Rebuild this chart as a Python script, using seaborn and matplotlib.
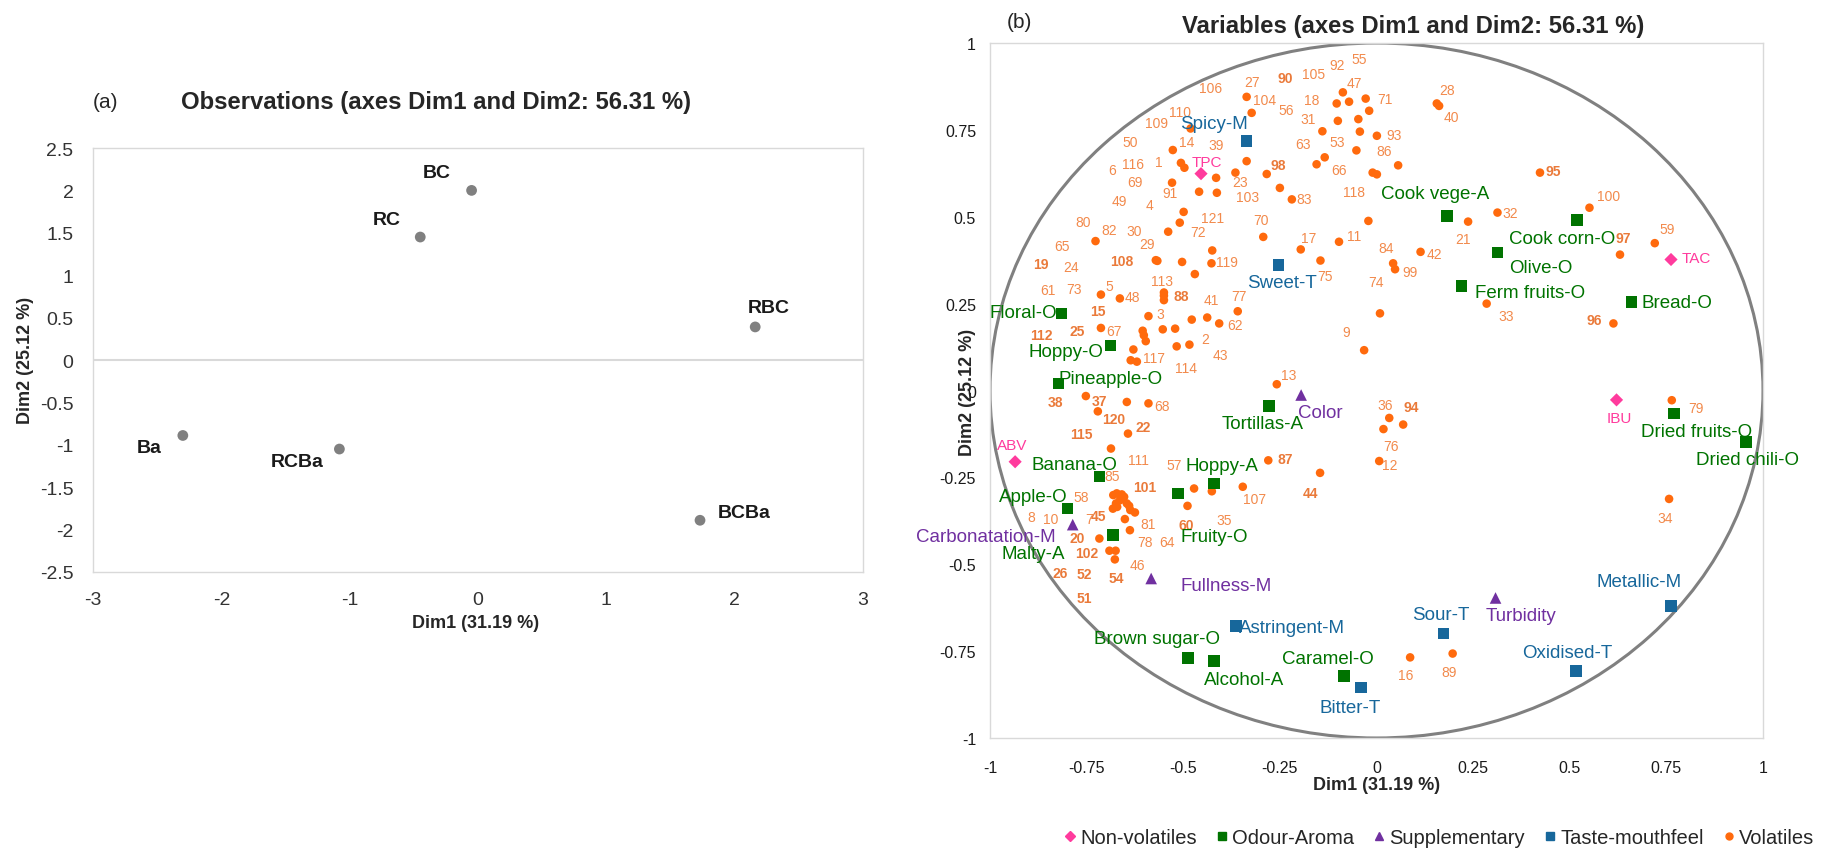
import numpy as np
import pandas as pd
import seaborn as sns
import matplotlib.pyplot as plt
from matplotlib.patches import Circle
from matplotlib.lines import Line2D

sns.set_theme(style="white")
plt.rcParams['font.family'] = ['Liberation Sans', 'DejaVu Sans']

# ---- (a) observations
obs_names = ['BC', 'RC', 'RBC', 'Ba', 'RCBa', 'BCBa']
obs_dim1 = [-0.05, -0.45, 2.16, -2.30, -1.08, 1.73]
obs_dim2 = [2.00, 1.45, 0.39, -0.89, -1.05, -1.89]

# ---- (b) variables
nonvol_names = ['TPC', 'TAC', 'IBU', 'ABV']
nonvol_dim1 = [-0.454, 0.762, 0.621, -0.935]
nonvol_dim2 = [0.624, 0.377, -0.027, -0.205]

odour_names = ['Cook vege-A', 'Cook corn-O', 'Olive-O', 'Ferm fruits-O', 'Bread-O',
               'Floral-O', 'Hoppy-O', 'Pineapple-O', 'Tortillas-A', 'Hoppy-A',
               'Fruity-O', 'Banana-O', 'Apple-O', 'Malty-A', 'Brown sugar-O',
               'Alcohol-A', 'Caramel-O', 'Dried fruits-O', 'Dried chili-O']
odour_dim1 = [0.182, 0.518, 0.313, 0.220, 0.660, -0.815, -0.688, -0.823, -0.278, -0.421,
              -0.513, -0.717, -0.799, -0.681, -0.487, -0.421, -0.084, 0.770, 0.956]
odour_dim2 = [0.503, 0.490, 0.397, 0.301, 0.255, 0.222, 0.129, 0.020, -0.045, -0.268,
              -0.296, -0.248, -0.340, -0.416, -0.769, -0.778, -0.821, -0.066, -0.148]

supp_names = ['Color', 'Carbonatation-M', 'Fullness-M', 'Turbidity']
supp_dim1 = [-0.195, -0.786, -0.583, 0.308]
supp_dim2 = [-0.013, -0.386, -0.541, -0.597]

taste_names = ['Spicy-M', 'Sweet-T', 'Astringent-M', 'Bitter-T', 'Sour-T', 'Metallic-M', 'Oxidised-T']
taste_dim1 = [-0.336, -0.254, -0.364, -0.040, 0.173, 0.762, 0.516]
taste_dim2 = [0.718, 0.361, -0.677, -0.855, -0.699, -0.621, -0.807]

vol_ids = list(range(1, 122))
vol_dim1 = [-0.506, -0.484, -0.590, -0.499, -0.713, -0.021, -0.664, -0.674, -0.032, -0.671,
            -0.097, 0.007, -0.258, -0.527, -0.713, 0.087, -0.196, -0.103, -0.567, -0.717,
            0.237, -0.643, -0.365, -0.553, -0.602, -0.659, -0.336, 0.156, -0.503, -0.470,
            -0.100, 0.313, 0.285, 0.757, -0.426, 0.033, -0.721, -0.752, -0.415, 0.162,
            -0.438, 0.114, -0.521, -0.146, -0.682, -0.675, -0.028, -0.664, -0.425, 0.056,
            -0.651, -0.640, -0.043, -0.677, -0.087, -0.140, -0.472, -0.681, 0.720, -0.489,
            -0.629, -0.407, -0.134, -0.637, -0.478, -0.155, -0.605, -0.590, -0.529, -0.293,
            -0.019, -0.539, -0.636, 0.009, -0.145, 0.018, -0.359, -0.638, 0.764, -0.550,
            -0.625, -0.727, -0.219, 0.043, -0.672, -0.052, -0.280, -0.550, 0.197, -0.250,
            -0.459, -0.071, 0.001, 0.069, 0.423, 0.613, 0.630, -0.284, 0.048, 0.551,
            -0.646, -0.691, -0.413, -0.323, -0.047, -0.336, -0.346, -0.571, 0.001, -0.481,
            -0.653, -0.597, -0.550, -0.517, -0.687, -0.497, -0.620, -0.010, -0.427, -0.646,
            -0.509]
vol_dim2 = [0.655, 0.132, 0.214, 0.514, 0.276, 0.488, -0.316, -0.325, 0.116, -0.335,
            0.428, -0.203, 0.018, 0.692, 0.180, -0.768, 0.406, 0.826, 0.373, -0.426,
            0.486, -0.124, 0.627, 0.176, 0.159, -0.299, 0.845, 0.826, 0.370, 0.335,
            0.776, 0.512, 0.250, -0.312, -0.290, -0.079, -0.060, -0.016, 0.612, 0.819,
            0.210, 0.399, 0.178, -0.237, -0.340, -0.461, 0.840, 0.265, 0.403, 0.648,
            -0.370, -0.332, 0.745, -0.486, 0.858, 0.746, -0.282, -0.301, 0.424, -0.332,
            0.118, 0.193, 0.671, -0.344, 0.204, 0.651, 0.172, -0.037, 0.598, 0.442,
            0.805, 0.457, 0.087, 0.222, 0.374, -0.111, 0.228, -0.402, -0.028, 0.260,
            -0.351, 0.430, 0.550, 0.366, -0.296, 0.691, -0.201, 0.273, -0.757, 0.583,
            0.572, 0.831, 0.733, -0.098, 0.627, 0.193, 0.391, 0.623, 0.349, 0.526,
            -0.325, -0.461, 0.569, 0.799, 0.781, 0.660, -0.277, 0.375, 0.622, 0.754,
            -0.306, 0.142, 0.282, 0.127, -0.167, 0.641, 0.083, 0.627, 0.366, -0.033,
            0.483]
vol_bold = {15, 19, 20, 22, 25, 26, 37, 38, 44, 45, 51, 52, 54, 60, 87, 88, 90, 94, 95,
            96, 97, 98, 101, 102, 108, 112, 115, 120}

# label placement (pixel offsets from the marker, as hand-placed in the original)
obs_nudge = {'BC': (-35, 18), 'RC': (-34, 18), 'RBC': (14, 19), 'Ba': (-34, -12),
             'RCBa': (-42, -12), 'BCBa': (44, 8)}
var_nudge = {
    'TPC': (6, 12), 'TAC': (25, 1), 'IBU': (3, -18), 'ABV': (-3, 17),
    'Cook vege-A': (-12, 22), 'Cook corn-O': (-15, -18), 'Olive-O': (43, -15),
    'Ferm fruits-O': (69, -7), 'Bread-O': (45, -1), 'Floral-O': (-38, 1),
    'Hoppy-O': (-45, -6), 'Pineapple-O': (52, 5), 'Tortillas-A': (-6, -17),
    'Hoppy-A': (8, 18), 'Fruity-O': (36, -43), 'Banana-O': (-25, 12),
    'Apple-O': (-34, 12), 'Malty-A': (-80, -18), 'Brown sugar-O': (-31, 19),
    'Alcohol-A': (30, -19), 'Caramel-O': (-16, 17), 'Dried fruits-O': (22, -18),
    'Dried chili-O': (2, -18),
    'Color': (19, -17), 'Carbonatation-M': (-87, -12), 'Fullness-M': (75, -7),
    'Turbidity': (25, -18),
    'Spicy-M': (-33, 17), 'Sweet-T': (4, -17), 'Astringent-M': (56, -2),
    'Bitter-T': (-11, -20), 'Sour-T': (-3, 19), 'Metallic-M': (-32, 25),
    'Oxidised-T': (-9, 18),
}
vol_nudge = [(-22, 1), (16, 6), (12, 2), (-34, 7), (8, 9), (-256, 51), (-31, -19), (-85, -14),
             (-18, 18), (-66, -12), (15, 6), (11, -4), (12, 9), (14, 8), (-3, 17), (-4, -18),
             (8, 11), (-25, 3), (-116, -3), (-22, 1), (-5, -17), (15, 7), (5, -9), (-92, 62),
             (-67, 4), (-62, -79), (5, 15), (10, 13), (-35, 18), (-61, 43), (-30, 2), (13, 0),
             (20, -12), (-4, -19), (12, -29), (-4, 13), (2, 10), (-30, -6), (0, 33), (12, -11),
             (4, 18), (14, -2), (45, -26), (-10, -20), (-14, -7), (22, -14), (-11, 16), (13, 1),
             (-93, 49), (-268, 23), (-41, -79), (-45, -68), (-23, -10), (1, -19), (16, 33),
             (-36, 21), (-20, 23), (-32, -2), (12, 14), (-1, -19), (-85, 59), (16, -2),
             (-22, 13), (37, -32), (-130, 74), (22, -6), (-29, 0), (14, -3), (-37, 1), (-2, 17),
             (16, 12), (30, 0), (-57, 71), (-4, 31), (5, -15), (8, -17), (1, 15), (15, -12),
             (24, -8), (-81, 78), (13, -12), (14, 11), (12, 0), (-7, 15), (-5, 17), (28, -1),
             (17, 1), (17, 0), (-4, -18), (5, 110), (-29, -1), (-12, 37), (17, 1), (8, 18),
             (13, 2), (-19, 3), (3, 17), (12, 9), (15, -3), (19, 12), (18, 16), (-23, -2),
             (31, -4), (13, 13), (-45, 45), (-36, 73), (12, -12), (-34, -1), (-220, 51),
             (-11, 16), (14, 37), (-104, 6), (-2, 12), (9, -22), (-30, 15), (-51, 4), (17, 4),
             (-19, -19), (15, 1), (-13, -17), (33, 5)]

C_PINK, C_GREEN, C_PURPLE, C_BLUE = '#ff3b9d', '#007300', '#7030a0', '#17679b'
C_ORANGE, C_ORANGE_TXT = '#ff6a0d', '#f28a4c'
C_FRAME = '#d9d9d9'

fig = plt.figure(figsize=(18.22, 8.62), dpi=100)
W, H = 1822, 862


def fig_axes(x0, y0, x1, y1):
    return fig.add_axes([x0 / W, 1 - y1 / H, (x1 - x0) / W, (y1 - y0) / H])


def style_frame(ax):
    for s in ax.spines.values():
        s.set_color(C_FRAME)
        s.set_linewidth(1)
    ax.tick_params(length=0)


# ================= panel (a)
ax1 = fig_axes(93, 149, 863, 573)
obs = pd.DataFrame({'name': obs_names, 'Dim1': obs_dim1, 'Dim2': obs_dim2})
ax1.axhline(0, color=C_FRAME, lw=1.5, zorder=0)
sns.scatterplot(data=obs, x='Dim1', y='Dim2', ax=ax1, color='#808080', s=60,
                edgecolor='none', legend=False)
for _, r in obs.iterrows():
    ax1.annotate(r['name'], (r['Dim1'], r['Dim2']), xytext=obs_nudge[r['name']],
                 textcoords='offset pixels', ha='center', va='center',
                 fontsize=14, fontweight='bold', color='#1a1a1a')
ax1.set_xlim(-3, 3)
ax1.set_ylim(-2.5, 2.5)
ax1.set_xticks(range(-3, 4))
ax1.set_xticklabels([str(v) for v in range(-3, 4)])
ax1.set_yticks(np.arange(-2.5, 2.51, 0.5))
ax1.set_yticklabels(['-2.5', '-2', '-1.5', '-1', '-0.5', '0', '0.5', '1', '1.5', '2', '2.5'])
ax1.tick_params(labelsize=14, colors='#333333', pad=14)
style_frame(ax1)
ax1.set_xlabel('')
ax1.set_ylabel('')
fig.text(476 / W, 1 - 624 / H, 'Dim1 (31.19 %)', ha='center', va='center',
         fontsize=13, fontweight='bold')
fig.text(25 / W, 1 - 360 / H, 'Dim2 (25.12 %)', ha='center', va='center',
         fontsize=13, fontweight='bold', rotation=90)
fig.text(106 / W, 1 - 103 / H, '(a)', ha='center', va='center', fontsize=15)
fig.text(436 / W, 1 - 103 / H, 'Observations (axes Dim1 and Dim2: 56.31 %)',
         ha='center', va='center', fontsize=17.2, fontweight='bold')

# ================= panel (b)
ax2 = fig_axes(990, 44, 1763, 739)
ax2.add_patch(Circle((0, 0), 1, fill=False, edgecolor='#808080', lw=2.2, zorder=1))

vol = pd.DataFrame({'id': vol_ids, 'Dim1': vol_dim1, 'Dim2': vol_dim2})
sns.scatterplot(data=vol, x='Dim1', y='Dim2', ax=ax2, color=C_ORANGE, s=38,
                edgecolor='none', legend=False, zorder=3)
for (_, r), off in zip(vol.iterrows(), vol_nudge):
    vid = int(r['id'])
    bold = vid in vol_bold
    ax2.annotate(str(vid), (r['Dim1'], r['Dim2']), xytext=off, textcoords='offset pixels',
                 ha='center', va='center', fontsize=10,
                 fontweight='bold' if bold else 'normal',
                 color='#ea7a3a' if bold else C_ORANGE_TXT, annotation_clip=False, zorder=4)

groups = [
    (nonvol_names, nonvol_dim1, nonvol_dim2, C_PINK, 'D', 45, 11),
    (odour_names, odour_dim1, odour_dim2, C_GREEN, 's', 70, 13.5),
    (supp_names, supp_dim1, supp_dim2, C_PURPLE, '^', 70, 13.5),
    (taste_names, taste_dim1, taste_dim2, C_BLUE, 's', 70, 13.5),
]
for names, d1, d2, col, mk, size, fs in groups:
    df = pd.DataFrame({'name': names, 'Dim1': d1, 'Dim2': d2})
    sns.scatterplot(data=df, x='Dim1', y='Dim2', ax=ax2, color=col, marker=mk, s=size,
                    edgecolor='none', legend=False, zorder=5)
    for _, r in df.iterrows():
        ax2.annotate(r['name'], (r['Dim1'], r['Dim2']), xytext=var_nudge[r['name']],
                     textcoords='offset pixels', ha='center', va='center', fontsize=fs,
                     color=col, annotation_clip=False, zorder=6)

ticks_b = [-1, -0.75, -0.5, -0.25, 0, 0.25, 0.5, 0.75, 1]
tick_txt = ['-1', '-0.75', '-0.5', '-0.25', '0', '0.25', '0.5', '0.75', '1']
ax2.set_xlim(-1, 1)
ax2.set_ylim(-1, 1)
ax2.set_xticks(ticks_b)
ax2.set_xticklabels(tick_txt)
ax2.set_yticks(ticks_b)
ax2.set_yticklabels(tick_txt)
ax2.tick_params(labelsize=11.5, colors='#1a1a1a')
ax2.tick_params(axis='x', pad=16)
ax2.tick_params(axis='y', pad=10)
style_frame(ax2)
ax2.set_xlabel('')
ax2.set_ylabel('')
fig.text(1377 / W, 1 - 786 / H, 'Dim1 (31.19 %)', ha='center', va='center',
         fontsize=13, fontweight='bold')
fig.text(967 / W, 1 - 392 / H, 'Dim2 (25.12 %)', ha='center', va='center',
         fontsize=13, fontweight='bold', rotation=90)
fig.text(1019 / W, 1 - 22 / H, '(b)', ha='center', va='center', fontsize=15)
fig.text(1413 / W, 1 - 27 / H, 'Variables (axes Dim1 and Dim2: 56.31 %)',
         ha='center', va='center', fontsize=17.2, fontweight='bold')

handles = [
    Line2D([], [], ls='none', marker='D', ms=5, color=C_PINK, label='Non-volatiles'),
    Line2D([], [], ls='none', marker='s', ms=6, color=C_GREEN, label='Odour-Aroma'),
    Line2D([], [], ls='none', marker='^', ms=6, color=C_PURPLE, label='Supplementary'),
    Line2D([], [], ls='none', marker='s', ms=6, color=C_BLUE, label='Taste-mouthfeel'),
    Line2D([], [], ls='none', marker='o', ms=5, color=C_ORANGE, label='Volatiles'),
]
fig.legend(handles=handles, loc='center right', bbox_to_anchor=(1814 / W, 1 - 839 / H),
           ncol=5, frameon=False, fontsize=14.5, handletextpad=0.05, columnspacing=0.8,
           handlelength=0.9, borderpad=0, borderaxespad=0)

fig.savefig('out.png', dpi=100)
